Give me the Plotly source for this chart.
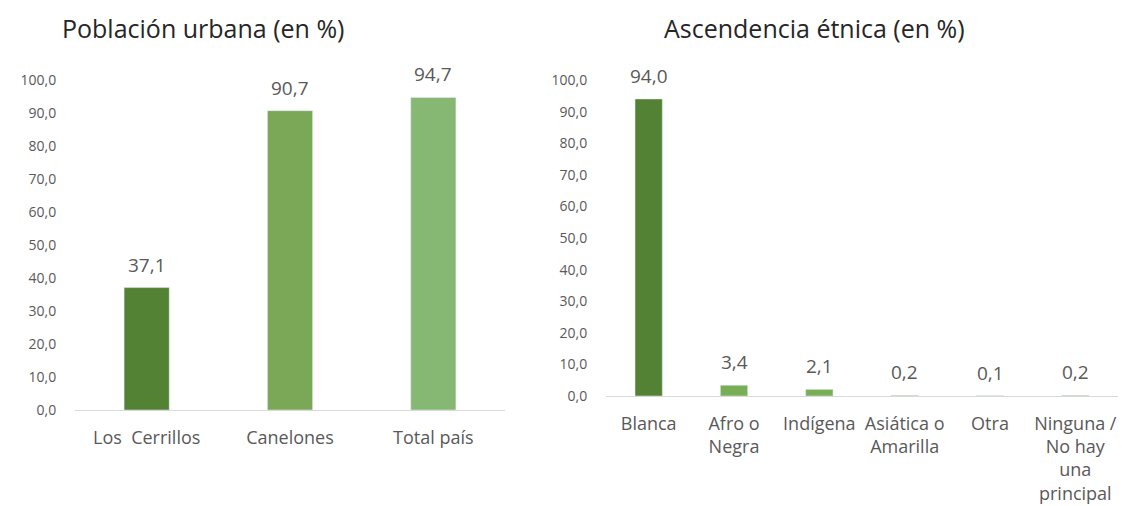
import plotly.graph_objects as go

# Data
urb_categories = ["Los  Cerrillos", "Canelones", "Total país"]
urb_values = [37.1, 90.7, 94.7]
urb_colors = ["#548235", "#7AA857", "#86B874"]

eth_categories = ["Blanca", "Afro o<br>Negra", "Indígena", "Asiática o<br>Amarilla", "Otra",
                  "Ninguna /<br>No hay<br>una<br>principal"]
eth_values = [94.0, 3.4, 2.1, 0.2, 0.1, 0.2]
eth_colors = ["#548235", "#78AE55", "#78AE55", "#78AE55", "#78AE55", "#78AE55"]

title_left = "Población urbana (en %)"
title_right = "Ascendencia étnica (en %)"

W, H = 1122, 506
TXT = "#595959"
FONT = "Open Sans"

def py(px):
    return 1 - px / H

fig = go.Figure()
fig.add_trace(go.Bar(x=urb_categories, y=urb_values, marker_color=urb_colors,
                     xaxis="x", yaxis="y", width=0.315, hoverinfo="skip"))
fig.add_trace(go.Bar(x=eth_categories, y=eth_values, marker_color=eth_colors,
                     xaxis="x2", yaxis="y2", width=0.32, hoverinfo="skip"))

annotations = []
for c, v in zip(urb_categories, urb_values):
    annotations.append(dict(x=c, y=v, xref="x", yref="y", text=f"{v:.1f}".replace(".", ","),
                            showarrow=False, yanchor="bottom", yshift=8,
                            font=dict(size=19, color=TXT, family=FONT)))
for c, v in zip(eth_categories, eth_values):
    annotations.append(dict(x=c, y=v, xref="x2", yref="y2", text=f"{v:.1f}".replace(".", ","),
                            showarrow=False, yanchor="bottom", yshift=8,
                            font=dict(size=19, color=TXT, family=FONT)))
annotations.append(dict(x=203 / W, y=py(28), xref="paper", yref="paper", text=title_left,
                        showarrow=False, xanchor="center", yanchor="middle",
                        font=dict(size=25, color="#262626", family=FONT)))
annotations.append(dict(x=814 / W, y=py(28), xref="paper", yref="paper", text=title_right,
                        showarrow=False, xanchor="center", yanchor="middle",
                        font=dict(size=25, color="#262626", family=FONT)))

yaxis_common = dict(range=[0, 100], tickvals=list(range(0, 101, 10)), tickformat=".1f",
                    showgrid=False, zeroline=False, showline=False, automargin=False,
                    ticks="outside", ticklen=15, tickcolor="rgba(0,0,0,0)",
                    tickfont=dict(size=14, color=TXT, family=FONT), fixedrange=True)
xaxis_common = dict(showgrid=False, zeroline=False, showline=True, linecolor="#D9D9D9",
                    linewidth=1, ticks="outside", tickcolor="rgba(0,0,0,0)", automargin=False,
                    tickfont=dict(size=18, color=TXT, family=FONT), fixedrange=True)

fig.update_layout(
    width=W, height=H, margin=dict(l=0, r=0, t=0, b=0, autoexpand=False),
    paper_bgcolor="white", plot_bgcolor="white", showlegend=False,
    separators=",.",
    font=dict(family=FONT, color=TXT),
    xaxis=dict(domain=[75 / W, 505 / W], anchor="y", ticklen=11, **xaxis_common),
    yaxis=dict(domain=[py(410), py(80)], anchor="x", **yaxis_common),
    xaxis2=dict(domain=[606 / W, 1118 / W], anchor="y2", ticklen=11, **xaxis_common),
    yaxis2=dict(domain=[py(396), py(80)], anchor="x2", **yaxis_common),
    annotations=annotations,
)

fig.write_html("out.html", config={"displayModeBar": False},
               post_script="document.body.style.margin='0';")
